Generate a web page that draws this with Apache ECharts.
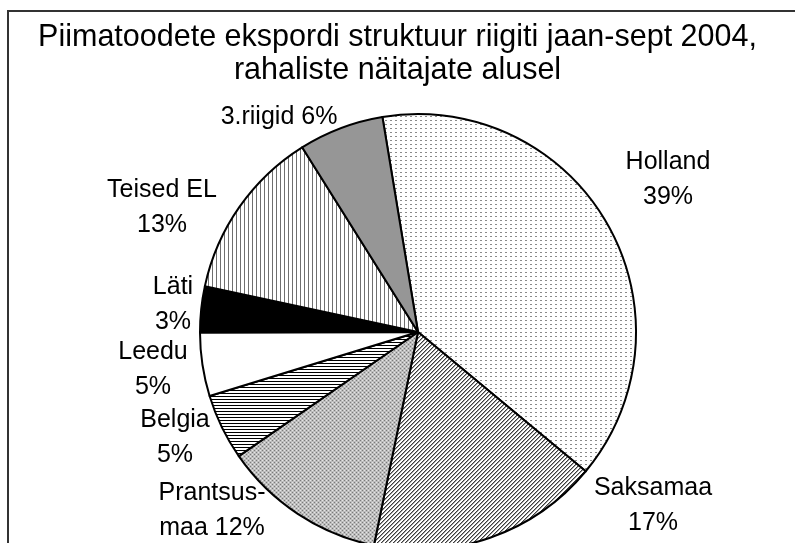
<!DOCTYPE html>
<html>
<head>
<meta charset="utf-8">
<script src="https://cdn.jsdelivr.net/npm/echarts@6/dist/echarts.min.js"></script>
<style>
    html, body { margin: 0; padding: 0; background: #fff; }
    #chart { width: 795px; height: 543px; }
</style>
</head>
<body>
<div id="chart"></div>
<script>
// slices, clockwise from the top
const categories = ['Holland', 'Saksamaa', 'Prantsusmaa', 'Belgia', 'Leedu', 'Läti', 'Teised EL', '3.riigid']
const shares = [38.6, 17.2, 12.1, 4.9, 4.7, 3.4, 12.7, 6.3]
const labelNames = ['Holland', 'Saksamaa', 'Prantsus-', 'Belgia', 'Leedu', 'Läti', 'Teised EL', '3.riigid']
const labelSep = ['\n', '\n', '\nmaa ', '\n', '\n', '\n', '\n', ' ']

// where Excel put each label (centre of the text block)
const labelX = [668, 653, 212, 175, 153, 173, 162, 279]
const labelY = [180, 506, 511, 438, 370, 305, 208, 117]

const FONT = '"Liberation Sans", Arial, sans-serif'

// small fill patterns like the old excel ones
const makePattern = (w, h, draw) => {
    const c = document.createElement('canvas')
    c.width = w
    c.height = h
    const ctx = c.getContext('2d')
    ctx.fillStyle = '#fff'
    ctx.fillRect(0, 0, w, h)
    draw(ctx)
    return { image: c, repeat: 'repeat' }
}

const dotted = makePattern(5, 4, ctx => {
    ctx.fillStyle = '#8a8a8a'
    ctx.fillRect(0, 0, 2, 1)
})
const diagonal = makePattern(4, 4, ctx => {
    for (let i = 0; i < 4; i++) {
        ctx.fillStyle = '#3c3c3c'
        ctx.fillRect(3 - i, i, 1, 1)
        ctx.fillStyle = '#a0a0a0'
        ctx.fillRect((4 - i) % 4, i, 1, 1)
    }
})
const checker = makePattern(4, 4, ctx => {
    ctx.fillStyle = '#bdbdbd'
    ctx.fillRect(0, 0, 4, 4)
    ctx.fillStyle = '#7a7a7a'
    ctx.fillRect(0, 0, 1, 1)
    ctx.fillRect(2, 2, 1, 1)
    ctx.fillStyle = '#e6e6e6'
    ctx.fillRect(2, 0, 1, 1)
    ctx.fillRect(0, 2, 1, 1)
})
const horizontal = makePattern(3, 3, ctx => {
    ctx.fillStyle = '#000'
    ctx.fillRect(0, 0, 3, 1)
})
const vertical = makePattern(4, 4, ctx => {
    ctx.fillStyle = '#6f6f6f'
    ctx.fillRect(0, 0, 1, 4)
})

const fills = [dotted, diagonal, checker, horizontal, '#ffffff', '#000000', vertical, '#969696']

const chart = echarts.init(document.getElementById('chart'), null, { renderer: 'canvas' })

let pie_data = []
for (let i = 0; i < categories.length; i++) {
    pie_data.push({
        name: categories[i],
        value: shares[i],
        itemStyle: { color: fills[i] }
    })
}

const option = {
    backgroundColor: '#fff',
    animation: false,
    title: {
        text: 'Piimatoodete ekspordi struktuur riigiti jaan-sept 2004,\nrahaliste näitajate alusel',
        left: 'center',
        top: 16,
        textStyle: {
            fontFamily: FONT,
            fontWeight: 'normal',
            fontSize: 30.5,
            lineHeight: 33,
            color: '#000'
        }
    },
    graphic: [
        {
            type: 'rect',
            shape: { x: 8, y: 11, width: 800, height: 600 },
            style: { fill: 'none', stroke: '#333', lineWidth: 2 },
            silent: true
        }
    ],
    series: [
        {
            type: 'pie',
            center: [418, 332],
            radius: 218,
            startAngle: 99.4,
            clockwise: true,
            percentPrecision: 0,
            avoidLabelOverlap: false,
            itemStyle: {
                borderColor: '#000',
                borderWidth: 2
            },
            label: {
                show: true,
                position: 'outside',
                color: '#000',
                fontFamily: FONT,
                fontSize: 25,
                lineHeight: 35,
                align: 'center',
                formatter: p => labelNames[p.dataIndex] + labelSep[p.dataIndex] + p.percent + '%'
            },
            labelLine: { show: false },
            labelLayout: p => ({
                x: labelX[p.dataIndex],
                y: labelY[p.dataIndex],
                align: 'center',
                verticalAlign: 'middle'
            }),
            emphasis: { disabled: true },
            data: pie_data
        }
    ]
}

chart.setOption(option)
</script>
</body>
</html>
